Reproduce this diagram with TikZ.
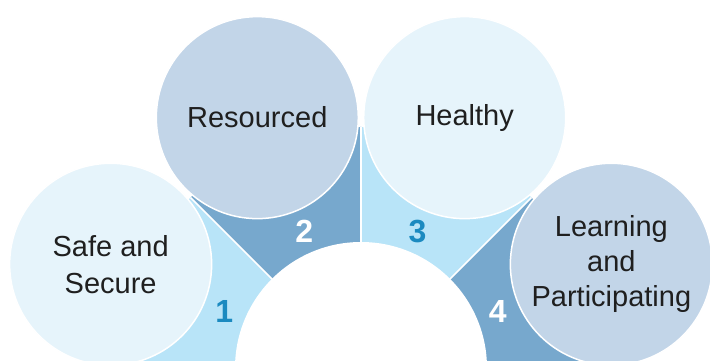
\documentclass[tikz,border=0pt]{standalone}
\usepackage{fontspec}
\setmainfont{Liberation Sans}
\usetikzlibrary{calc}
\definecolor{paleblue}{HTML}{E6F4FB}
\definecolor{greyblue}{HTML}{C2D5E8}
\definecolor{skyblue}{HTML}{B8E4F8}
\definecolor{steelblue}{HTML}{77A8CD}
\definecolor{numblue}{HTML}{1B8AC0}
\tikzset{
	bubble/.style={circle, inner sep=0pt, minimum size=202pt, draw=white, line width=1.5pt, align=center, text=black!88, font=\fontsize{29}{35}\selectfont},
	number/.style={font=\bfseries\fontsize{32}{32}\selectfont}
}

\begin{document}
\begin{tikzpicture}[x=1pt, y=1pt]
		%%%%% START %%%%%
		
		\useasboundingbox (0, 0) rectangle (710, 361);
		\clip (0, 0) rectangle (710, 361);
		\coordinate (c) at (361, -7);
		
		% four sectors of the fan
		\fill[skyblue] (c) -- ++(180:241) arc (180:135:241) -- cycle;
		\fill[steelblue] (c) -- ++(135:241) arc (135:90:241) -- cycle;
		\fill[skyblue] (c) -- ++(90:241) arc (90:45:241) -- cycle;
		\fill[steelblue] (c) -- ++(45:241) arc (45:0:241) -- cycle;
		\foreach \a in {135, 90, 45}
			\draw[white, line width=1.5pt] ($(c)+(\a:120)$) -- ($(c)+(\a:241)$);
		
		\fill[white] (c) circle (126);
		
		% numbers
		\node[number, numblue] (n1) at ($(c)+(157.5:148)$) {1};
		\node[number, white] (n2) at ($(c)+(112.5:148)$) {2};
		\node[number, numblue] (n3) at ($(c)+(67.5:148)$) {3};
		\node[number, white] (n4) at ($(c)+(22.5:148)$) {4};
		
		% bubbles
		\node[bubble, fill=paleblue, font=\fontsize{29}{37}\selectfont] (safe) at ($(c)+(157.5:271)$) {Safe and\\Secure};
		\node[bubble, fill=greyblue] (resourced) at ($(c)+(112.5:271)$) {Resourced};
		\node[bubble, fill=paleblue] (healthy) at ($(c)+(67.5:271)$) {Healthy};
		\node[bubble, fill=greyblue] (learning) at ($(c)+(22.5:271)$) {Learning\\and\\Participating};
		
		%%%%% END %%%%%
\end{tikzpicture}
\end{document}
